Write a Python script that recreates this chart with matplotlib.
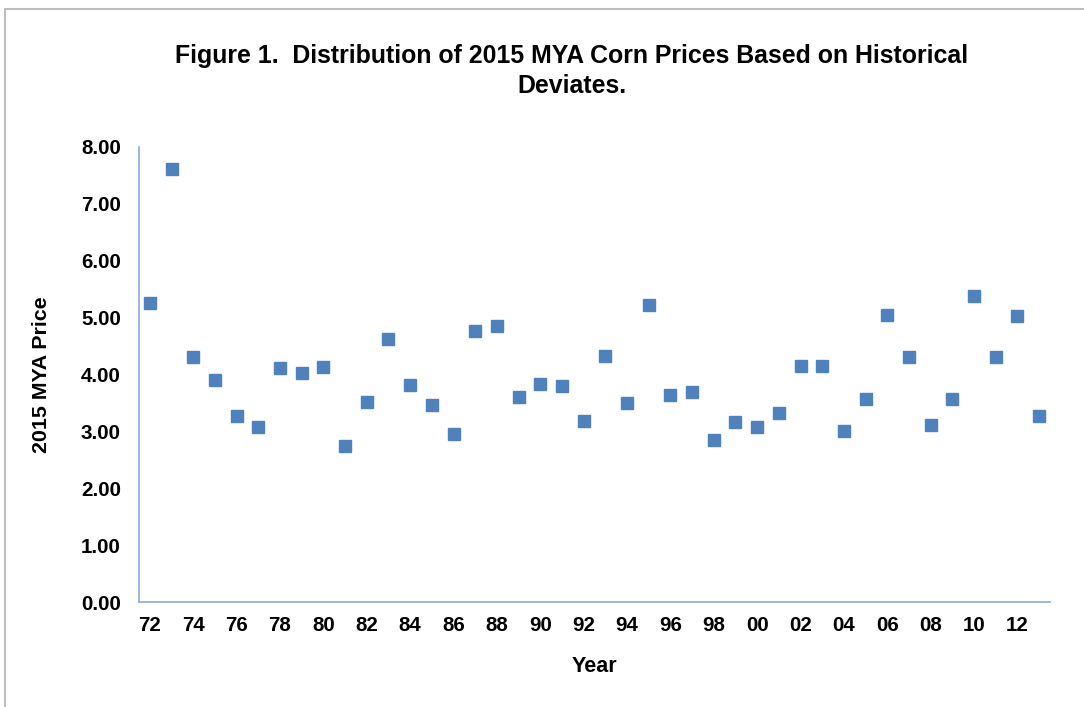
import matplotlib
matplotlib.use("Agg")
import matplotlib.pyplot as plt
from matplotlib.patches import Rectangle

plt.rcParams['font.family'] = ['Liberation Sans', 'DejaVu Sans']

years = list(range(1972, 2014))
prices = [5.26, 7.61, 4.31, 3.91, 3.27, 3.07, 4.12, 4.03, 4.14, 2.75,
          3.52, 4.62, 3.82, 3.47, 2.96, 4.77, 4.85, 3.61, 3.84, 3.80,
          3.19, 4.33, 3.50, 5.22, 3.64, 3.70, 2.84, 3.16, 3.07, 3.33,
          4.15, 4.15, 3.01, 3.57, 5.05, 4.30, 3.12, 3.57, 5.38, 4.30,
          5.03, 3.27]
yticks = [0, 1, 2, 3, 4, 5, 6, 7, 8]

W, H = 1084, 707
fig = plt.figure(figsize=(W / 100, H / 100), dpi=100)
ax = fig.add_axes([139 / W, 1 - 602 / H, (1050 - 139) / W, (602 - 147) / H])

pos = list(range(len(years)))
ax.plot(pos, prices, linestyle='none', marker='s', markersize=8.6,
        color='#4F81BD', markeredgecolor='#4F81BD')

ax.set_xlim(-0.5, len(years) - 0.5)
ax.set_ylim(0, 8)
ax.set_yticks(yticks)
ax.set_yticklabels([f"{v:.2f}" for v in yticks])
ax.set_xticks(pos[::2])
ax.set_xticklabels([f"{y % 100:02d}" for y in years[::2]])
ax.tick_params(axis='both', length=0, labelsize=14.8)
ax.tick_params(axis='y', pad=13)
ax.tick_params(axis='x', pad=10)
for lab in ax.get_xticklabels() + ax.get_yticklabels():
    lab.set_fontweight('bold')

for s in ['top', 'right']:
    ax.spines[s].set_visible(False)
for s in ['left', 'bottom']:
    ax.spines[s].set_color('#8EA9D6')
    ax.spines[s].set_linewidth(1.2)

fig.text(42 / W, 1 - 375 / H, '2015 MYA Price', rotation=90, ha='center',
         va='center', fontsize=15.4, fontweight='bold')
fig.text(594 / W, 1 - 666 / H, 'Year', ha='center', va='center',
         fontsize=15.5, fontweight='bold')
fig.text(572 / W, 1 - 71 / H,
         'Figure 1.  Distribution of 2015 MYA Corn Prices Based on Historical\nDeviates.',
         ha='center', va='center', fontsize=17.9, fontweight='bold',
         linespacing=1.32)

fig.patches.append(Rectangle((5 / W, -0.05), 1.2, 1 - 9 / H + 0.05,
                             transform=fig.transFigure, fill=False,
                             edgecolor='#BDBDBD', linewidth=1.5))

fig.savefig('out.png', dpi=100)
